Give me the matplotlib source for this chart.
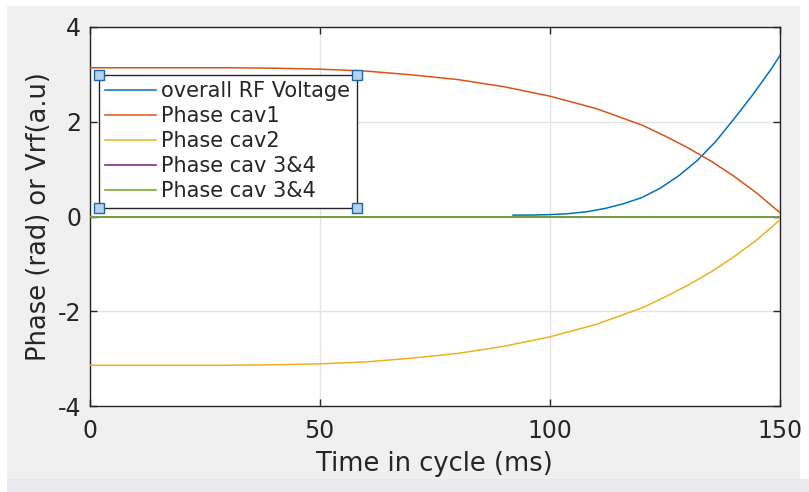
import matplotlib
matplotlib.use("Agg")
import matplotlib.pyplot as plt
from matplotlib.patches import Rectangle

plt.rcParams["axes.unicode_minus"] = False

# values
t_phase = [0, 10, 20, 30, 40, 50, 60, 70, 80, 90, 100, 110, 120, 125, 130, 135, 140, 145, 150]
phase_cav1 = [3.14, 3.14, 3.14, 3.14, 3.13, 3.11, 3.07, 2.99, 2.89, 2.74, 2.54, 2.28, 1.93, 1.70, 1.45, 1.17, 0.85, 0.49, 0.08]
phase_cav2 = [-3.14, -3.14, -3.14, -3.14, -3.13, -3.11, -3.07, -2.99, -2.89, -2.74, -2.54, -2.28, -1.93, -1.70, -1.45, -1.17, -0.85, -0.49, -0.07]
t_rf = [92, 96, 100, 104, 108, 112, 116, 120, 124, 128, 132, 136, 140, 144, 148, 150]
rf_voltage = [0.03, 0.03, 0.04, 0.06, 0.10, 0.17, 0.27, 0.40, 0.60, 0.86, 1.18, 1.58, 2.06, 2.56, 3.10, 3.40]
t_flat = [0, 150]
phase_cav34 = [0, 0]

labels = ["overall RF Voltage", "Phase cav1", "Phase cav2", "Phase cav 3&4", "Phase cav 3&4"]
colors = ["#0072BD", "#D95319", "#EDB120", "#7E2F8E", "#77AC30"]

fig = plt.figure(figsize=(8.09, 4.92), dpi=100, facecolor="white")
W, H = 809, 492
# MATLAB-like window background
fig.add_artist(Rectangle((7 / W, 1 - 479 / H), (800 - 7) / W, (479 - 6) / H,
                         transform=fig.transFigure, facecolor="#f0f0f0", edgecolor="none", zorder=0))
fig.add_artist(Rectangle((7 / W, 0), 1, 13 / H,
                         transform=fig.transFigure, facecolor="#e8e8ed", edgecolor="none", zorder=0))

ax = fig.add_axes([89.6 / W, 1 - 406 / H, (780 - 89.6) / W, (406 - 27) / H])
ax.set_facecolor("white")

ax.plot(t_rf, rf_voltage, color=colors[0], lw=1.1, label=labels[0], zorder=3)
ax.plot(t_phase, phase_cav1, color=colors[1], lw=1.1, label=labels[1], zorder=3)
ax.plot(t_phase, phase_cav2, color=colors[2], lw=1.1, label=labels[2], zorder=3)
ax.plot(t_flat, phase_cav34, color=colors[3], lw=1.2, label=labels[3], zorder=3)
ax.plot(t_flat, phase_cav34, color=colors[4], lw=1.2, label=labels[4], zorder=3)

ax.set_xlim(0, 150)
ax.set_ylim(-4, 4)
ax.set_xticks([0, 50, 100, 150])
ax.set_yticks([-4, -2, 0, 2, 4])
ax.grid(True, color="#e3e3e3", lw=1)
ax.set_axisbelow(True)
ax.tick_params(direction="in", length=5, width=1, colors="#262626", labelsize=17,
               top=True, right=True)
ax.tick_params(axis="x", pad=9)
ax.tick_params(axis="y", pad=6)
for s in ax.spines.values():
    s.set_color("#262626")
    s.set_linewidth(1)

ax.set_xlabel("Time in cycle (ms)", fontsize=18.5, color="#262626", labelpad=6)
ax.set_ylabel("Phase (rad) or Vrf(a.u)", fontsize=18.5, color="#262626", labelpad=4)

leg = ax.legend(loc="upper left", bbox_to_anchor=(0.0136, 0.873), borderaxespad=0,
                fontsize=15, frameon=True, fancybox=False, edgecolor="#262626",
                framealpha=1, handlelength=2.45, handletextpad=0.25, labelspacing=0.24,
                borderpad=0.3)
leg.get_frame().set_linewidth(1)
for txt in leg.get_texts():
    txt.set_color("#262626")

# selection handles on legend corners
fig.canvas.draw()
bb = leg.get_window_extent().transformed(fig.transFigure.inverted())
for (x, y) in [(bb.x0, bb.y0), (bb.x1, bb.y0), (bb.x0, bb.y1), (bb.x1, bb.y1)]:
    fig.add_artist(plt.Line2D([x], [y], marker="s", markersize=6.5, markerfacecolor="#b5d3ee",
                              markeredgecolor="#1d64a8", markeredgewidth=1,
                              transform=fig.transFigure, zorder=10))

fig.savefig("out.png", dpi=100, facecolor=fig.get_facecolor())
